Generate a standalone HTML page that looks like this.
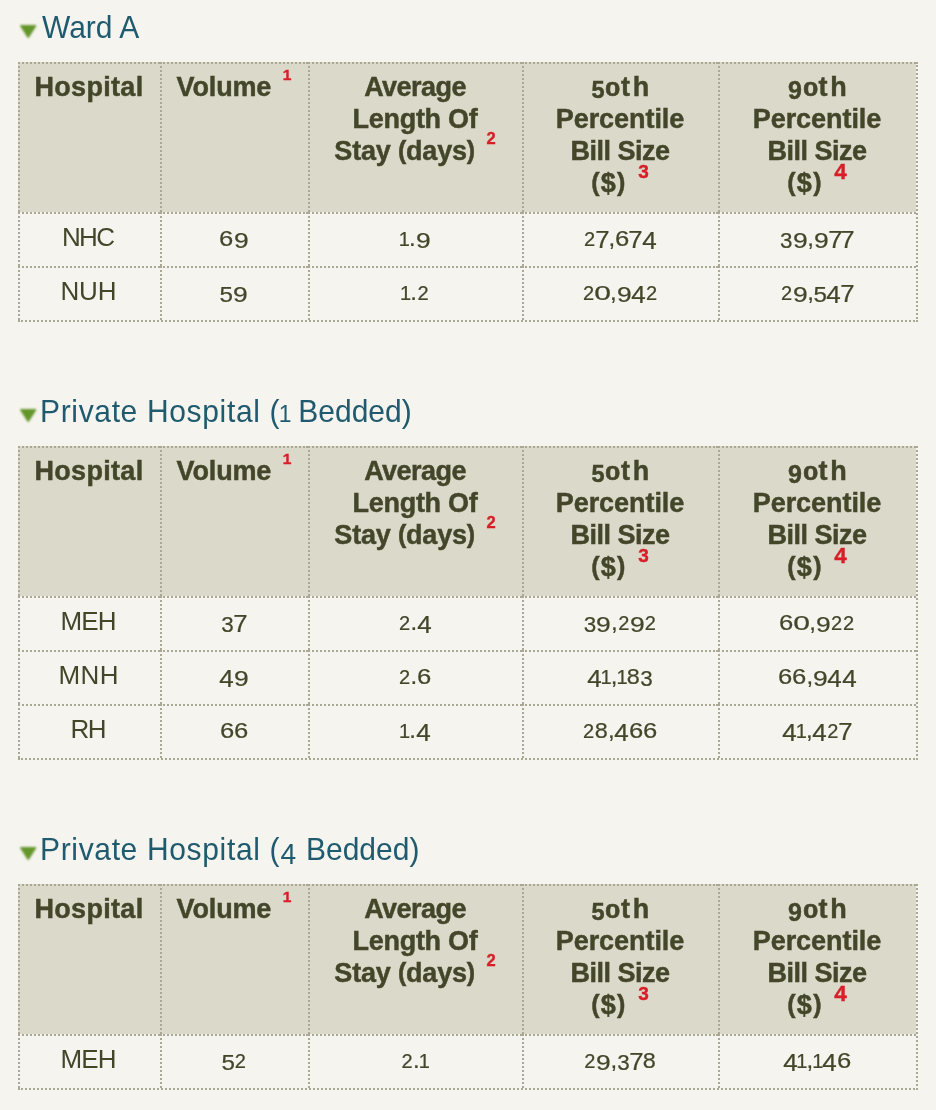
<!DOCTYPE html>
<html><head><meta charset="utf-8">
<title>Hospital Bill Sizes</title>
<style>
html,body{margin:0;padding:0;}
body{width:936px;height:1110px;background:#f5f4ef;overflow:hidden;font-family:"Liberation Sans",sans-serif;color:#44462a;position:relative;}
.sec{position:absolute;left:0;width:936px;height:0;}
h3{position:absolute;left:40px;top:9px;margin:0;font-weight:normal;font-size:32px;line-height:36px;letter-spacing:0;transform:scaleX(0.9375);transform-origin:0 0;color:#1f5a6e;white-space:nowrap;}
.tri{position:absolute;left:16px;top:20px;width:24px;height:22px;}
table{position:absolute;left:18px;top:62px;border-collapse:separate;border-spacing:0;table-layout:fixed;width:900px;border-right:2px dotted #aaa894;border-bottom:2px dotted #aaa894;}
th,td{border:0;border-left:2px dotted #aaa894;border-top:2px dotted #aaa894;box-sizing:border-box;text-align:center;padding:0;white-space:nowrap;}
th{-webkit-text-stroke:0.45px #44462a;background:#dbd9ca;font-weight:bold;font-size:27px;letter-spacing:0;line-height:32px;vertical-align:top;height:150px;padding:7px 2px 0 0;box-sizing:border-box;}
td{font-size:26px;height:54px;line-height:46px;padding:0 3px 6px 0;}
td.n{-webkit-text-stroke:0.22px #44462a;font-size:24px;letter-spacing:0;padding:1px 2px 5px 0;height:54px;line-height:46px;}
.ph{letter-spacing:0.7px}
td.n span{line-height:0;display:inline-block;}
.p{font-size:25px;line-height:0;position:relative;top:-1px;}
.o{display:inline-block;line-height:0;position:relative;text-align:center;letter-spacing:0;}
.o5{font-size:23.5px;top:2px;width:14.6px;}
.o9{font-size:25px;top:3.3px;width:15.6px;}
.oz{font-size:20.5px;width:15.6px;transform:scaleX(1.35);}
sup{-webkit-text-stroke:0.4px #d71f28;color:#d71f28;font-size:16.5px;margin-left:4px;letter-spacing:0;font-weight:bold;line-height:0;vertical-align:baseline;position:relative;top:-16.6px;}
td.n .d0{font-size:20px;margin:0 2.14px;transform:scaleX(1.5);}
td.n .d1{font-size:20px;margin:0 -0.91px;}
td.n .d2{font-size:20px;margin:0 0.44px;}
td.n .d3{font-size:22.4px;margin:0 0.17px;position:relative;top:1.5px;}
td.n .d4{font-size:23px;margin:0 0.70px;position:relative;top:3px;transform:scaleX(1.13);}
td.n .d5{font-size:22.4px;margin:0 0.07px;position:relative;top:1.5px;transform:scaleX(1.08);}
td.n .d6{font-size:22.5px;margin:0 0.89px;transform:scaleX(1.14);}
td.n .d7{font-size:23px;margin:0 0.05px;position:relative;top:2px;transform:scaleX(1.12);}
td.n .d8{font-size:22.5px;margin:0 0.49px;transform:scaleX(1.04);}
td.n .d9{font-size:22.4px;margin:0 1.12px;position:relative;top:1.5px;transform:scaleX(1.18);}
</style></head><body>
<div class="sec" style="top:0px">
<svg class="tri" viewBox="0 0 24 22"><defs><filter id="b0" x="-20%" y="-20%" width="140%" height="140%"><feGaussianBlur stdDeviation="1"/></filter></defs><polygon points="5.0,5.8 19.4,5.8 12.2,17.1" fill="#64962a" stroke="#64962a" stroke-width="1.8" stroke-linejoin="round" filter="url(#b0)"/></svg>
<h3 aria-label="Ward A"><span style="margin-left:2.1px">Ward A</span></h3>
<table>
<colgroup><col style="width:142px"><col style="width:148px"><col style="width:214px"><col style="width:196px"><col style="width:198px"></colgroup>
<tr><th><span style="letter-spacing:0.3px">Hospital</span></th><th><span style="letter-spacing:-0.15px">Volume</span> <sup style="font-size:15.5px;top:-16.5px">1</sup></th><th aria-label="Average Length Of Stay (days) 2"><span style="letter-spacing:-0.55px">Average</span><br><span style="letter-spacing:-0.3px">Length Of</span><br><span style="letter-spacing:-0.2px">Stay <span class="p">(</span>days<span class="p">)</span></span> <sup style="font-size:16.5px;top:-15.8px">2</sup></th><th aria-label="50th Percentile Bill Size ($) 3"><span class="o o5">5</span><span class="o oz">0</span><span style="letter-spacing:2.8px;margin-right:-2.8px">th</span><br><span style="letter-spacing:-0.05px">Percentile</span><br><span style="letter-spacing:-0.5px">Bill Size</span><br><span style="letter-spacing:1.3px"><span class="p">(</span>$<span class="p">)</span></span> <sup style="font-size:19px;top:-14.2px">3</sup></th><th aria-label="90th Percentile Bill Size ($) 4"><span class="o o9">9</span><span class="o oz">0</span><span style="letter-spacing:2.8px;margin-right:-2.8px">th</span><br><span style="letter-spacing:-0.05px">Percentile</span><br><span style="letter-spacing:-0.5px">Bill Size</span><br><span style="letter-spacing:1.3px"><span class="p">(</span>$<span class="p">)</span></span> <sup style="font-size:22.5px;top:-12.8px">4</sup></th></tr>
<tr><td><span style="letter-spacing:-1.7px;margin-right:1.7px">NHC</span></td><td class="n" aria-label="69"><span class="d6">6</span><span class="d9">9</span></td><td class="n" aria-label="1.9"><span class="d1">1</span>.<span class="d9">9</span></td><td class="n" aria-label="27,674"><span class="d2">2</span><span class="d7">7</span>,<span class="d6">6</span><span class="d7">7</span><span class="d4">4</span></td><td class="n" aria-label="39,977"><span class="d3">3</span><span class="d9">9</span>,<span class="d9">9</span><span class="d7">7</span><span class="d7">7</span></td></tr>
<tr><td><span style="letter-spacing:-0.2px;margin-right:0.2px">NUH</span></td><td class="n" aria-label="59"><span class="d5">5</span><span class="d9">9</span></td><td class="n" aria-label="1.2"><span class="d1">1</span>.<span class="d2">2</span></td><td class="n" aria-label="20,942"><span class="d2">2</span><span class="d0">0</span>,<span class="d9">9</span><span class="d4">4</span><span class="d2">2</span></td><td class="n" aria-label="29,547"><span class="d2">2</span><span class="d9">9</span>,<span class="d5">5</span><span class="d4">4</span><span class="d7">7</span></td></tr>
</table>
</div>
<div class="sec" style="top:384px">
<svg class="tri" viewBox="0 0 24 22"><defs><filter id="b384" x="-20%" y="-20%" width="140%" height="140%"><feGaussianBlur stdDeviation="1"/></filter></defs><polygon points="5.0,5.8 19.4,5.8 12.2,17.1" fill="#64962a" stroke="#64962a" stroke-width="1.8" stroke-linejoin="round" filter="url(#b384)"/></svg>
<h3 aria-label="Private Hospital (1 Bedded)"><span class="ph">Private Hospital </span>(<span style="font-size:24.5px;line-height:0;margin:0 -1.6px 0 -1px">1</span> Bedded)</h3>
<table>
<colgroup><col style="width:142px"><col style="width:148px"><col style="width:214px"><col style="width:196px"><col style="width:198px"></colgroup>
<tr><th><span style="letter-spacing:0.3px">Hospital</span></th><th><span style="letter-spacing:-0.15px">Volume</span> <sup style="font-size:15.5px;top:-16.5px">1</sup></th><th aria-label="Average Length Of Stay (days) 2"><span style="letter-spacing:-0.55px">Average</span><br><span style="letter-spacing:-0.3px">Length Of</span><br><span style="letter-spacing:-0.2px">Stay <span class="p">(</span>days<span class="p">)</span></span> <sup style="font-size:16.5px;top:-15.8px">2</sup></th><th aria-label="50th Percentile Bill Size ($) 3"><span class="o o5">5</span><span class="o oz">0</span><span style="letter-spacing:2.8px;margin-right:-2.8px">th</span><br><span style="letter-spacing:-0.05px">Percentile</span><br><span style="letter-spacing:-0.5px">Bill Size</span><br><span style="letter-spacing:1.3px"><span class="p">(</span>$<span class="p">)</span></span> <sup style="font-size:19px;top:-14.2px">3</sup></th><th aria-label="90th Percentile Bill Size ($) 4"><span class="o o9">9</span><span class="o oz">0</span><span style="letter-spacing:2.8px;margin-right:-2.8px">th</span><br><span style="letter-spacing:-0.05px">Percentile</span><br><span style="letter-spacing:-0.5px">Bill Size</span><br><span style="letter-spacing:1.3px"><span class="p">(</span>$<span class="p">)</span></span> <sup style="font-size:22.5px;top:-12.8px">4</sup></th></tr>
<tr><td><span style="letter-spacing:-0.8px;margin-right:0.8px">MEH</span></td><td class="n" aria-label="37"><span class="d3">3</span><span class="d7">7</span></td><td class="n" aria-label="2.4"><span class="d2">2</span>.<span class="d4">4</span></td><td class="n" aria-label="39,292"><span class="d3">3</span><span class="d9">9</span>,<span class="d2">2</span><span class="d9">9</span><span class="d2">2</span></td><td class="n" aria-label="60,922"><span class="d6">6</span><span class="d0">0</span>,<span class="d9">9</span><span class="d2">2</span><span class="d2">2</span></td></tr>
<tr><td><span style="letter-spacing:0.4px;margin-right:-0.4px">MNH</span></td><td class="n" aria-label="49"><span class="d4">4</span><span class="d9">9</span></td><td class="n" aria-label="2.6"><span class="d2">2</span>.<span class="d6">6</span></td><td class="n" aria-label="41,183"><span class="d4">4</span><span class="d1">1</span>,<span class="d1">1</span><span class="d8">8</span><span class="d3">3</span></td><td class="n" aria-label="66,944"><span class="d6">6</span><span class="d6">6</span>,<span class="d9">9</span><span class="d4">4</span><span class="d4">4</span></td></tr>
<tr><td><span style="letter-spacing:-1.7px;margin-right:1.7px">RH</span></td><td class="n" aria-label="66"><span class="d6">6</span><span class="d6">6</span></td><td class="n" aria-label="1.4"><span class="d1">1</span>.<span class="d4">4</span></td><td class="n" aria-label="28,466"><span class="d2">2</span><span class="d8">8</span>,<span class="d4">4</span><span class="d6">6</span><span class="d6">6</span></td><td class="n" aria-label="41,427"><span class="d4">4</span><span class="d1">1</span>,<span class="d4">4</span><span class="d2">2</span><span class="d7">7</span></td></tr>
</table>
</div>
<div class="sec" style="top:822px">
<svg class="tri" viewBox="0 0 24 22"><defs><filter id="b822" x="-20%" y="-20%" width="140%" height="140%"><feGaussianBlur stdDeviation="1"/></filter></defs><polygon points="5.0,5.8 19.4,5.8 12.2,17.1" fill="#64962a" stroke="#64962a" stroke-width="1.8" stroke-linejoin="round" filter="url(#b822)"/></svg>
<h3 aria-label="Private Hospital (4 Bedded)"><span class="ph">Private Hospital </span>(<span style="font-size:30px;line-height:0;position:relative;top:4px;margin:0 1.6px 0 1px">4</span> Bedded)</h3>
<table>
<colgroup><col style="width:142px"><col style="width:148px"><col style="width:214px"><col style="width:196px"><col style="width:198px"></colgroup>
<tr><th><span style="letter-spacing:0.3px">Hospital</span></th><th><span style="letter-spacing:-0.15px">Volume</span> <sup style="font-size:15.5px;top:-16.5px">1</sup></th><th aria-label="Average Length Of Stay (days) 2"><span style="letter-spacing:-0.55px">Average</span><br><span style="letter-spacing:-0.3px">Length Of</span><br><span style="letter-spacing:-0.2px">Stay <span class="p">(</span>days<span class="p">)</span></span> <sup style="font-size:16.5px;top:-15.8px">2</sup></th><th aria-label="50th Percentile Bill Size ($) 3"><span class="o o5">5</span><span class="o oz">0</span><span style="letter-spacing:2.8px;margin-right:-2.8px">th</span><br><span style="letter-spacing:-0.05px">Percentile</span><br><span style="letter-spacing:-0.5px">Bill Size</span><br><span style="letter-spacing:1.3px"><span class="p">(</span>$<span class="p">)</span></span> <sup style="font-size:19px;top:-14.2px">3</sup></th><th aria-label="90th Percentile Bill Size ($) 4"><span class="o o9">9</span><span class="o oz">0</span><span style="letter-spacing:2.8px;margin-right:-2.8px">th</span><br><span style="letter-spacing:-0.05px">Percentile</span><br><span style="letter-spacing:-0.5px">Bill Size</span><br><span style="letter-spacing:1.3px"><span class="p">(</span>$<span class="p">)</span></span> <sup style="font-size:22.5px;top:-12.8px">4</sup></th></tr>
<tr><td><span style="letter-spacing:-0.8px;margin-right:0.8px">MEH</span></td><td class="n" aria-label="52"><span class="d5">5</span><span class="d2">2</span></td><td class="n" aria-label="2.1"><span class="d2">2</span>.<span class="d1">1</span></td><td class="n" aria-label="29,378"><span class="d2">2</span><span class="d9">9</span>,<span class="d3">3</span><span class="d7">7</span><span class="d8">8</span></td><td class="n" aria-label="41,146"><span class="d4">4</span><span class="d1">1</span>,<span class="d1">1</span><span class="d4">4</span><span class="d6">6</span></td></tr>
</table>
</div>
</body></html>
